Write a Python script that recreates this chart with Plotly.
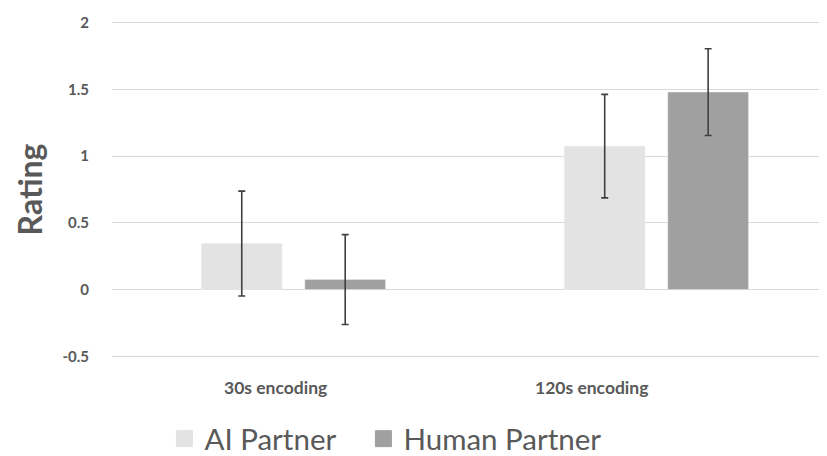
import plotly.graph_objects as go

categories = ["30s encoding", "120s encoding"]
ai_values = [0.345, 1.075]
ai_errors = [0.393, 0.388]
human_values = [0.075, 1.48]
human_errors = [0.337, 0.325]
series_names = ["AI Partner", "Human Partner"]
y_ticks = [-0.5, 0, 0.5, 1, 1.5, 2]
y_ticktext = ["-0.5", "0", "0.5", "1", "1.5", "2"]

AI_COLOR = "#e3e3e3"
HUMAN_COLOR = "#a0a0a0"
TEXT = "#595959"
FONT = "Lato"

err_style = dict(type="data", visible=True, color="#404040", thickness=1.6, width=3.5)

fig = go.Figure()
fig.add_trace(go.Bar(x=categories, y=ai_values, name=series_names[0], marker_color=AI_COLOR,
                     error_y=dict(array=ai_errors, **err_style), showlegend=False))
fig.add_trace(go.Bar(x=categories, y=human_values, name=series_names[1], marker_color=HUMAN_COLOR,
                     error_y=dict(array=human_errors, **err_style), showlegend=False))
# legend-only entries with larger square swatches, one legend box each
for name, col, lg in zip(series_names, [AI_COLOR, HUMAN_COLOR], ["legend", "legend2"]):
    fig.add_trace(go.Scatter(x=[None], y=[None], mode="markers", name=name, legend=lg,
                             marker=dict(symbol="square", size=16, color=col,
                                         line=dict(color=col, width=1))))

# category labels (offset as in the reference)
label_offsets = [-0.05, -0.18]
for i, (cat, off) in enumerate(zip(categories, label_offsets)):
    fig.add_annotation(x=i + off, y=0, xref="x", yref="paper", yanchor="top", yshift=-12,
                       text=f"<b>{cat}</b>", showarrow=False,
                       font=dict(family=FONT, size=17.5, color=TEXT))

legend_common = dict(orientation="h", xref="container", yref="container",
                     xanchor="left", y=0.038, yanchor="middle",
                     font=dict(family=FONT, size=29.5, color=TEXT),
                     bgcolor="rgba(0,0,0,0)")

fig.update_layout(
    width=819, height=448,
    margin=dict(l=104, r=0, t=8, b=93, autoexpand=False),
    paper_bgcolor="white", plot_bgcolor="white",
    barmode="group", bargap=0.43, bargroupgap=0.22,
    font=dict(family=FONT, color=TEXT),
    legend=dict(x=0.191, **legend_common),
    legend2=dict(x=0.434, **legend_common),
    xaxis=dict(type="category", range=[-0.5, 1.47], showticklabels=False,
               showgrid=False, showline=False, zeroline=False, fixedrange=True,
               automargin=False),
    yaxis=dict(range=[-0.55, 2.05], tickvals=y_ticks, ticktext=y_ticktext,
               showgrid=True, gridcolor="#d9d9d9", gridwidth=1.2, automargin=False,
               zeroline=False, showline=False, ticks="", ticklabelstandoff=22,
               tickfont=dict(family=FONT, size=15, color=TEXT, weight="bold"),
               title=dict(text="<b>Rating</b>", standoff=10,
                          font=dict(family=FONT, size=32, color=TEXT))),
)

fig.write_html("out.html")
